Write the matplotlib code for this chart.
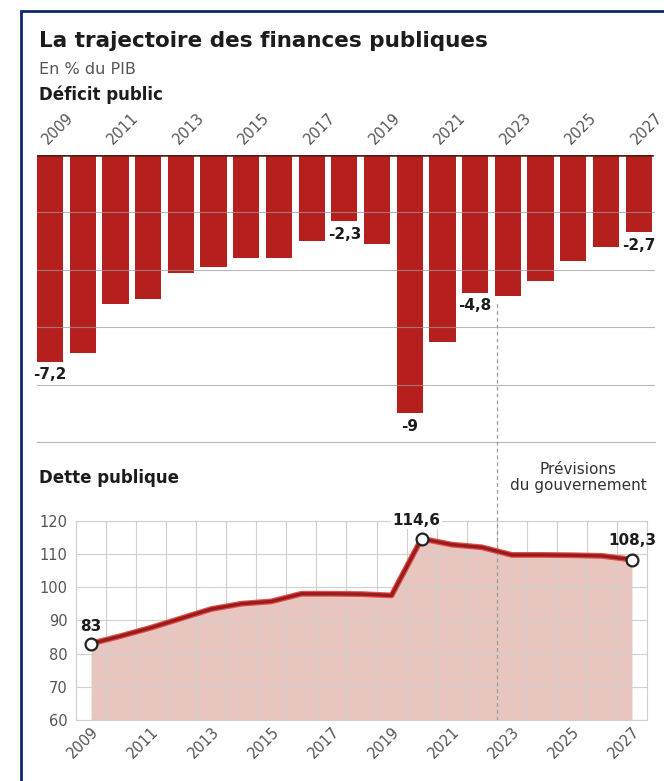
import numpy as np
import matplotlib
matplotlib.use("Agg")
import matplotlib.pyplot as plt
from matplotlib.patches import Rectangle

# données (en % du PIB)
years = list(range(2009, 2028))
deficit = [-7.2, -6.9, -5.2, -5.0, -4.1, -3.9, -3.6, -3.6, -3.0, -2.3, -3.1,
           -9.0, -6.5, -4.8, -4.9, -4.4, -3.7, -3.2, -2.7]
dette = [83.0, 85.3, 87.8, 90.6, 93.4, 95.0, 95.7, 98.0, 98.0, 97.9, 97.5,
         114.6, 112.8, 112.0, 109.7, 109.7, 109.6, 109.4, 108.3]
deficit_label_years = [2009, 2018, 2020, 2022, 2027]
deficit_label_texts = ["-7,2", "-2,3", "-9", "-4,8", "-2,7"]
dette_label_years = [2009, 2020, 2027]
dette_label_texts = ["83", "114,6", "108,3"]
year_ticks = list(range(2009, 2028, 2))
dette_ticks = list(range(60, 121, 10))

RED = "#b5201e"
DARK = "#1c1c1c"
GREY = "#555555"
GRID = "#cfcfcf"

W, H = 664, 781


def fx(px):
    return px / W


def fy(py):
    return 1 - py / H


fig = plt.figure(figsize=(W / 100, H / 100), dpi=100)

# --- Déficit public ---
ax1 = fig.add_axes([fx(37), fy(442), (655 - 37) / W, (442 - 155) / H])
x = np.arange(len(years))
ax1.bar(x, deficit, width=0.8, color=RED, zorder=1)
ax1.set_xlim(-0.4, 18.5)
ax1.set_ylim(-10, 0)
ax1.set_yticks(range(-10, 1, 2))
ax1.yaxis.grid(True, color="#9a9a9a", lw=0.8, alpha=0.7)
ax1.axhline(-10, color="#9a9a9a", lw=0.8, alpha=0.7, clip_on=False)
ax1.set_axisbelow("line")
ax1.tick_params(axis="y", length=0, labelleft=False)
ax1.xaxis.tick_top()
ax1.set_xticks(x[::2])
ax1.set_xticklabels([str(y) for y in years[::2]], rotation=45, ha="left",
                    va="bottom", rotation_mode="anchor", color=GREY, fontsize=10.5)
ax1.tick_params(axis="x", length=0, pad=6)
for s in ax1.spines.values():
    s.set_visible(False)
ax1.axhline(0, xmin=0, xmax=(18.4 + 0.4) / 18.9, color="#5b1a12", lw=1.8, zorder=3)

for yr, txt in zip(deficit_label_years, deficit_label_texts):
    i = years.index(yr)
    ax1.annotate(txt, (i, deficit[i]), xytext=(0, -4), textcoords="offset points",
                 ha="center", va="top", fontsize=11, fontweight="bold", color=DARK)

# --- Dette publique ---
ax2 = fig.add_axes([fx(76), fy(720), (647 - 76) / W, (720 - 520.7) / H])
ax2.fill_between(years, dette, 60, color="#e8c6bf", lw=0, zorder=1)
ax2.plot(years, dette, color="#e0504a", lw=4.2, zorder=3)
ax2.plot(years, dette, color="#9a1b1b", lw=2.4, zorder=3.1)
mark_vals = [dette[years.index(yr)] for yr in dette_label_years]
ax2.plot(dette_label_years, mark_vals, "o", ms=8.5, mfc="white", mec="#222222",
         mew=1.6, zorder=4, clip_on=False)
ax2.set_xlim(2008.5, 2027.5)
ax2.set_ylim(60, 120)
ax2.set_yticks(dette_ticks)
ax2.set_xticks(year_ticks)
ax2.set_xticks(np.arange(2008.5, 2028, 1), minor=True)
ax2.grid(True, which="minor", axis="x", color=GRID, lw=0.8)
ax2.grid(True, which="major", axis="y", color=GRID, lw=0.8)
ax2.set_axisbelow("line")
ax2.tick_params(which="both", length=0)
ax2.tick_params(axis="y", pad=6, labelsize=10.5, labelcolor=GREY)
ax2.set_xticklabels([str(y) for y in year_ticks], rotation=45, ha="right", va="top",
                    rotation_mode="anchor", fontsize=10.5, color=GREY)
ax2.tick_params(axis="x", pad=3)
for s in ax2.spines.values():
    s.set_color(GRID)
    s.set_linewidth(0.8)

offsets = [(0, 7), (-4, 8), (0, 8)]
for yr, txt, off in zip(dette_label_years, dette_label_texts, offsets):
    v = dette[years.index(yr)]
    ax2.annotate(txt, (yr, v), xytext=off, textcoords="offset points", ha="center",
                 va="bottom", fontsize=11, fontweight="bold", color=DARK, zorder=5,
                 bbox=dict(boxstyle="square,pad=0.1", fc="white", ec="none")
                 if yr == 2020 else None)

# ligne des prévisions
ax2.axvline(2022.5, ymin=0, ymax=(720 - 302) / (720 - 520.7), color="#9a9a9a",
            lw=0.9, ls=(0, (3, 2.5)), clip_on=False, zorder=2)

# textes
fig.text(fx(39), fy(47), "La trajectoire des finances publiques", fontsize=15.5,
         fontweight="bold", color=DARK, va="baseline")
fig.text(fx(39), fy(74), "En % du PIB", fontsize=11.5, color=GREY, va="baseline")
fig.text(fx(39), fy(100), "Déficit public", fontsize=12, fontweight="bold",
         color=DARK, va="baseline")
fig.text(fx(39), fy(483), "Dette publique", fontsize=12, fontweight="bold",
         color=DARK, va="baseline")
fig.text(fx(578), fy(462), "Prévisions\ndu gouvernement", fontsize=11, color="#333333",
         ha="center", va="top", linespacing=1.05)

# cadre
fig.add_artist(Rectangle((fx(21), -0.05), 1.2, fy(11) + 0.05, transform=fig.transFigure,
                         fill=False, ec="#0b2a6e", lw=2))

fig.savefig("out.png", dpi=100)
